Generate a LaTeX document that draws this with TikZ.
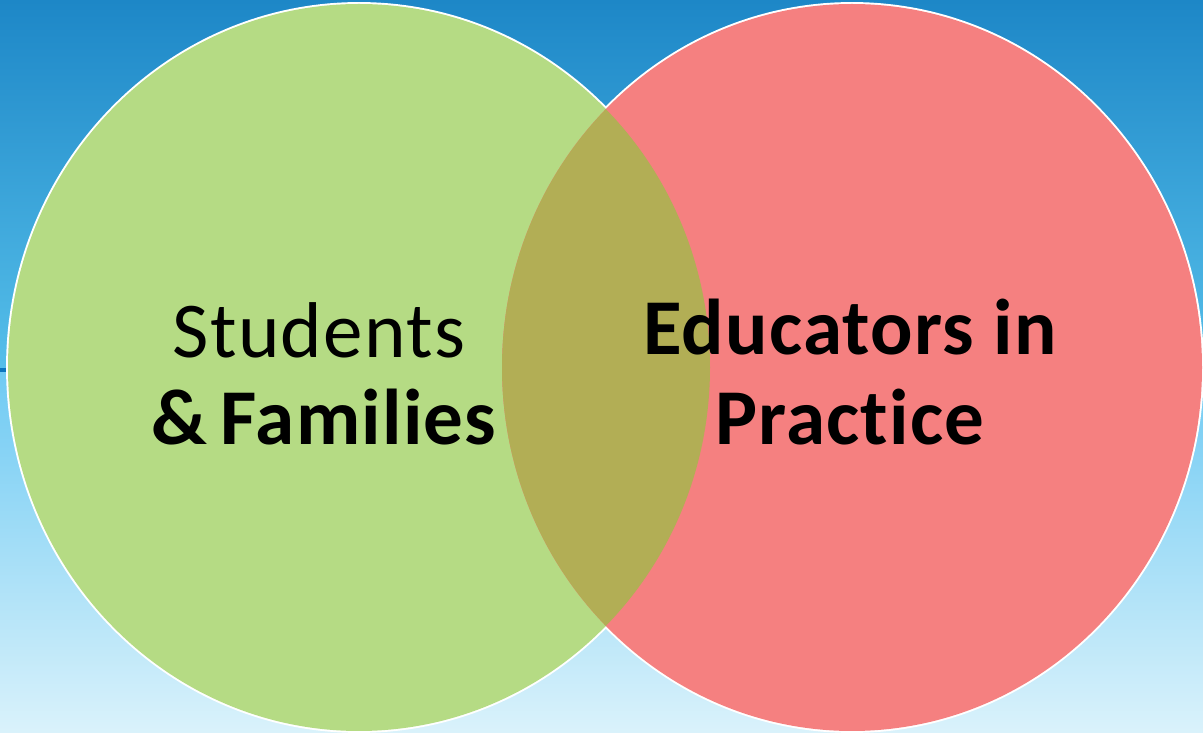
\documentclass[tikz,border=0pt]{standalone}
\usepackage{fontspec}
\setmainfont{Carlito}[Ligatures=NoCommon, LetterSpace=1.6]
\usepackage{tikz}
\usetikzlibrary{calc}

\definecolor{skytop}{HTML}{1D87C7}
\definecolor{skymid}{HTML}{56BFEA}
\definecolor{skylow}{HTML}{6FCAF3}
\definecolor{skybot}{HTML}{DAF2FB}
\definecolor{rulebl}{HTML}{0C76BF}
\definecolor{leafgr}{HTML}{B5DB84}
\definecolor{salmon}{HTML}{F58080}
\definecolor{olivex}{HTML}{B2AE55}

\tikzset{
    vennlbl/.style={color=black, anchor=base, inner sep=0pt, font=\fontsize{22.5}{27}\selectfont},
    vennbold/.style={vennlbl, font=\fontsize{22.5}{27}\selectfont\bfseries},
}

\begin{document}
\begin{tikzpicture}
    % background
    \useasboundingbox (0,0) rectangle (12.03,7.33);
    \shade[top color=skytop, bottom color=skymid] (0,3.63) rectangle (12.03,7.33);
    \shade[top color=skylow, bottom color=skybot] (0,0) rectangle (12.03,3.63);
    \draw[color=rulebl, line width=0.9pt] (0,3.63) -- (12.03,3.63);
    
    \coordinate (stu) at (3.59,3.655);
    \coordinate (edu) at (8.52,3.655);
    
    % white rims, then the two discs
    \draw[color=white, line width=1.1pt] (stu) ellipse (3.51 and 3.635);
    \draw[color=white, line width=1.1pt] (edu) ellipse (3.50 and 3.635);
    \fill[leafgr] (stu) ellipse (3.51 and 3.635);
    \fill[salmon] (edu) ellipse (3.50 and 3.635);
    
    % overlap
    \begin{scope}
        \clip (stu) ellipse (3.51 and 3.635);
        \fill[olivex] (edu) ellipse (3.50 and 3.635);
    \end{scope}
    
    
    \node[vennlbl] (stuA) at (3.19,3.75) {Students};
    \node[vennbold] (stuB) at (3.24,2.88) {\&\,Families};
    \node[vennbold] (eduA) at (8.50,3.78) {Educators in};
    \node[vennbold] (eduB) at (8.50,2.88) {Practice};
    
\end{tikzpicture}
\end{document}
